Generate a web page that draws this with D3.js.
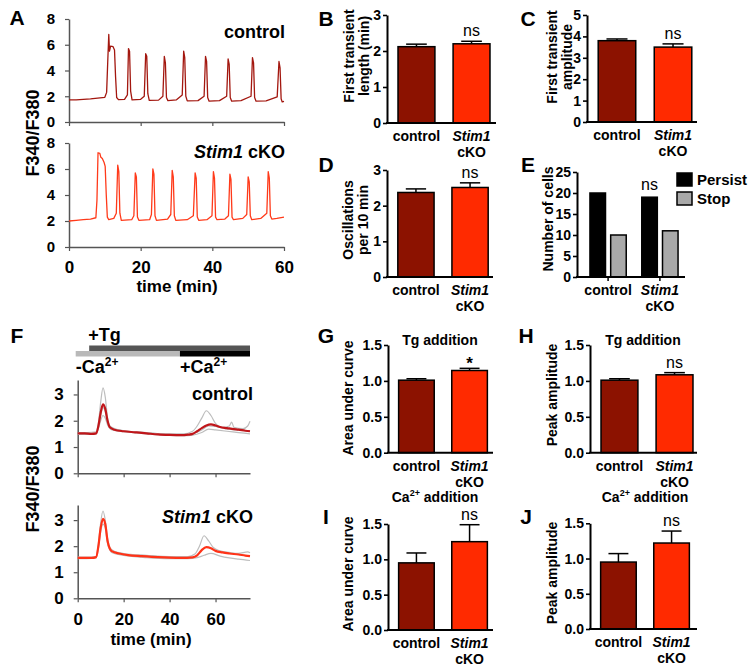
<!DOCTYPE html>
<html><head><meta charset="utf-8">
<script src="https://cdn.jsdelivr.net/npm/d3@7"></script>
<style>
body{margin:0;background:#fff}
svg text{font-family:"Liberation Sans",Arial,Helvetica,sans-serif}
</style>
</head><body>
<svg id="c" width="754" height="671"></svg>
<script>
// ---------------- DATA ----------------
const groups = ["control", "Stim1 cKO"];
const barColors = ["#8c1200", "#ff2a00"];

// B–D bar charts
const firstLength = [2.12, 2.20], firstLengthErr = [0.07, 0.07];
const firstAmp = [3.80, 3.50], firstAmpErr = [0.08, 0.15];
const oscPer10 = [2.37, 2.51], oscPer10Err = [0.10, 0.13];
// E
const series = ["Persist", "Stop"];
const persistCells = [20, 19];
const stopCells = [10, 11];
// G–J
const tgAUC = [1.01, 1.145], tgAUCErr = [0.02, 0.03];
const tgPeak = [1.01, 1.085], tgPeakErr = [0.02, 0.03];
const caAUC = [0.95, 1.25], caAUCErr = [0.14, 0.24];
const caPeak = [0.95, 1.22], caPeakErr = [0.12, 0.17];

const ticks3 = [0, 1, 2, 3];
const ticks5 = [0, 1, 2, 3, 4, 5];
const ticks25 = [0, 5, 10, 15, 20, 25];
const ticks15 = [0, 0.5, 1.0, 1.5];
const ticksA_y = [0, 2, 4, 6, 8];
const ticksA_x = [0, 20, 40, 60];
const ticksF_y = [0, 1, 2, 3];
const ticksF_x = [0, 20, 40, 60];

// A: single-cell traces [time (min), F340/F380]
const traceA_control = [
[0,1.72],[2,1.72],[4,1.76],[6,1.8],[8,1.86],[10,1.92],[10.5,2.3],[10.8,4.6],[11.1,6.8],[11.3,5.5],[11.6,5.9],[12.3,5.85],[12.7,5.6],[13.0,3.5],[13.3,1.9],[13.8,1.74],
[15.5,1.76],[16.3,2.1],[16.6,5.7],[16.9,5.5],[17.2,2.4],[17.6,1.72],
[20,1.76],[21.0,2.0],[21.4,5.3],[21.7,5.1],[22.0,2.2],[22.4,1.68],
[25,1.7],[26.2,2.0],[26.6,5.1],[26.9,4.6],[27.2,1.9],[27.6,1.66],
[30,1.72],[31.6,2.1],[32.0,5.5],[32.3,5.0],[32.6,2.0],[33.0,1.64],
[36,1.66],[37.7,2.0],[38.1,5.1],[38.4,4.7],[38.7,1.9],[39.1,1.62],
[42,1.66],[44.0,2.0],[44.4,4.9],[44.7,4.5],[45.0,1.9],[45.4,1.62],
[48,1.66],[50.8,2.0],[51.2,5.0],[51.5,4.6],[51.8,1.9],[52.2,1.62],
[55,1.64],[58.1,1.95],[58.6,4.7],[58.9,4.2],[59.2,1.8],[59.5,1.56],[60,1.6]
];
const traceA_cko = [
[0,2.0],[2,2.05],[4,2.1],[6,2.15],[7.5,2.25],[7.8,3.6],[8.1,7.25],[8.6,7.2],[8.9,6.9],[9.3,6.8],[9.8,6.5],[10.1,6.2],[10.4,4.0],[10.7,2.3],[11.1,2.1],
[12.5,2.2],[13.2,2.6],[13.6,6.3],[13.9,5.8],[14.2,2.6],[14.6,2.05],
[17.5,2.1],[18.1,2.4],[18.5,5.7],[18.8,5.4],[19.1,2.3],[19.5,2.05],
[22.5,2.1],[23.0,2.5],[23.4,6.0],[23.7,5.6],[24.0,2.4],[24.4,2.05],
[27.5,2.15],[28.4,2.5],[28.8,5.9],[29.1,5.4],[29.4,2.4],[29.8,2.05],
[33,2.1],[34.7,2.4],[35.2,5.7],[35.5,5.3],[35.8,2.3],[36.2,2.05],
[38.5,2.1],[39.9,2.4],[40.3,5.8],[40.6,5.3],[40.9,2.3],[41.3,2.1],
[43.5,2.15],[44.5,2.4],[44.9,5.6],[45.2,5.2],[45.5,2.3],[45.9,2.1],
[48.5,2.2],[49.6,2.5],[50.0,5.4],[50.3,5.0],[50.6,2.4],[51.0,2.1],
[53.5,2.2],[55.2,2.6],[55.6,5.8],[55.9,5.3],[56.2,2.4],[56.6,2.15],[58,2.2],[60,2.3]
];

// F: Tg / Ca2+ protocol (min)
const tgStart = 5, caStart = 44.5, protocolEnd = 75;
// F: mean traces (red) and individual cell traces (gray)
const meanF_control = [[0,1.52],[3,1.52],[6,1.5],[8,1.52],[9,1.8],[10,2.3],[11,2.62],[12,2.45],[13,2.0],[14,1.75],[16,1.66],[20,1.6],[25,1.56],[30,1.52],[35,1.48],[40,1.46],[45,1.45],[48,1.47],[50,1.5],[52,1.6],[54,1.72],[56,1.82],[58,1.86],[60,1.82],[62,1.76],[65,1.72],[68,1.68],[70,1.66],[73,1.62],[75,1.6]];
const grayF_control1 = [[0,1.55],[4,1.55],[8,1.58],[9,1.9],[10,2.7],[11,3.25],[12,2.9],[13,2.1],[14,1.8],[16,1.7],[20,1.62],[30,1.55],[40,1.5],[46,1.5],[50,1.6],[52,1.8],[54,2.1],[56,2.38],[58,2.2],[60,1.9],[63,1.75],[66,1.8],[67,1.95],[68,1.75],[72,1.7],[74,1.8],[75,1.98]];
const grayF_control2 = [[0,1.48],[4,1.48],[8,1.5],[9,1.7],[10,2.0],[11,2.2],[12,2.1],[13,1.85],[15,1.65],[20,1.58],[30,1.5],[40,1.44],[46,1.43],[50,1.45],[54,1.55],[57,1.68],[60,1.65],[65,1.6],[70,1.55],[75,1.5]];
const grayF_control3 = [[0,1.5],[5,1.5],[8,1.52],[9,1.75],[10,2.2],[11,2.5],[12,2.35],[13,1.95],[15,1.7],[20,1.62],[30,1.54],[40,1.48],[46,1.46],[50,1.5],[54,1.65],[57,1.8],[60,1.78],[64,1.7],[70,1.64],[75,1.62]];
const meanF_cko = [[0,1.55],[3,1.55],[6,1.55],[8,1.58],[9,2.0],[10,2.7],[11,3.05],[12,2.85],[13,2.2],[14,1.9],[15,1.8],[18,1.72],[22,1.66],[28,1.62],[35,1.58],[40,1.56],[45,1.55],[50,1.57],[52,1.65],[54,1.85],[56,1.96],[58,1.92],[60,1.82],[63,1.76],[66,1.72],[70,1.68],[73,1.64],[75,1.62]];
const grayF_cko1 = [[0,1.58],[4,1.58],[8,1.6],[9,2.1],[10,2.9],[11,3.35],[12,3.0],[13,2.3],[14,1.95],[16,1.8],[20,1.72],[30,1.65],[40,1.6],[48,1.6],[51,1.7],[53,2.0],[55,2.4],[57,2.2],[59,1.95],[62,1.82],[66,1.76],[70,1.72],[74,1.78],[75,1.75]];
const grayF_cko2 = [[0,1.52],[4,1.52],[8,1.55],[9,1.9],[10,2.55],[11,2.85],[12,2.7],[13,2.1],[15,1.75],[20,1.65],[30,1.56],[40,1.52],[48,1.52],[52,1.56],[55,1.65],[58,1.72],[62,1.62],[66,1.55],[70,1.5],[75,1.45]];

// ---------------- DRAWING ----------------
const svg = d3.select("#c");
svg.append("rect").attr("width",754).attr("height",671).attr("fill","#fff");
const FONT = "Liberation Sans, Arial, sans-serif";

function txt(x, y, s, size, opts = {}) {
  const t = svg.append("text").attr("x", x).attr("y", y)
    .attr("font-size", size).attr("font-weight", opts.weight || "bold")
    .attr("text-anchor", opts.anchor || "start").attr("fill", opts.fill || "#000");
  if (opts.italic) t.attr("font-style", "italic");
  t.text(s);
  return t;
}
function letter(x, y, s) { txt(x, y, s, 21, {anchor: "middle"}); }
function styleAxis(g, size, color, dw) {
  g.select(".domain").attr("stroke", color).attr("stroke-width", dw);
  g.selectAll(".tick line").attr("stroke", color).attr("stroke-width", dw * 0.8);
  g.selectAll(".tick text").attr("font-size", size).attr("font-weight", "bold")
    .attr("fill", "#000").attr("font-family", FONT);
}
function rotTitle(x, y, s, size) {
  svg.append("text").attr("transform", `translate(${x},${y}) rotate(-90)`)
    .attr("text-anchor", "middle").attr("dy", "0.35em")
    .attr("font-size", size).attr("font-weight", "bold").text(s);
}
function catLabels(xs, y0) {
  txt(xs[0], y0 + 18, "control", 14, {anchor: "middle"});
  txt(xs[1], y0 + 18, "Stim1", 14, {anchor: "middle", italic: true});
  txt(xs[1], y0 + 34, "cKO", 14, {anchor: "middle"});
}

function barPanel(o) {
  const y = d3.scaleLinear().domain(o.domain).range(o.yPx);
  const x = d3.scaleBand().domain(groups).range(o.band).paddingInner(0.33).paddingOuter(0.2);
  const bw = x.bandwidth();
  const g = svg.append("g");
  g.selectAll("rect").data(o.values).join("rect")
    .attr("x", (d, i) => x(groups[i])).attr("y", d => y(d))
    .attr("width", bw).attr("height", d => y(0) - y(d))
    .attr("fill", (d, i) => barColors[i]).attr("stroke", "#000").attr("stroke-width", 1.5);
  o.values.forEach((v, i) => {
    const cx = x(groups[i]) + bw / 2, top = y(v + o.errs[i]);
    g.append("line").attr("x1", cx).attr("x2", cx).attr("y1", y(v)).attr("y2", top)
      .attr("stroke", "#000").attr("stroke-width", 1.5);
    g.append("line").attr("x1", cx - bw * 0.28).attr("x2", cx + bw * 0.28).attr("y1", top).attr("y2", top)
      .attr("stroke", "#000").attr("stroke-width", 1.5);
  });
  const ya = svg.append("g").attr("transform", `translate(${o.ax},0)`)
    .call(d3.axisLeft(y).tickValues(o.ticks).tickSize(4).tickPadding(2).tickSizeOuter(0).tickFormat(o.fmt));
  styleAxis(ya, 14, "#000", 2);
  svg.append("line").attr("x1", o.ax - 1).attr("x2", o.axEnd).attr("y1", y(0)).attr("y2", y(0))
    .attr("stroke", "#000").attr("stroke-width", 2);
  const cxs = groups.map(k => x(k) + bw / 2);
  catLabels(cxs, y(0));
  const sTop = y(o.values[1] + o.errs[1]);
  if (o.sig === "*") txt(cxs[1], sTop + 1, "*", 17, {anchor: "middle"});
  else txt(cxs[1], sTop - 5, o.sig, 16, {anchor: "middle", weight: "normal"});
  o.title.forEach((t, i) => rotTitle(o.titleX[i], o.titleY, t, 14));
  if (o.header) {
    const h = svg.append("text").attr("x", o.headerX).attr("y", o.headerY).attr("text-anchor", "middle")
      .attr("font-size", 14).attr("font-weight", "bold");
    h.append("tspan").text(o.header[0]);
    if (o.header.length > 1) {
      h.append("tspan").attr("font-size", 9).attr("dy", -6).text(o.header[1]);
      h.append("tspan").attr("dy", 6).text(o.header[2]);
    }
  }
}

// ---- Panel A ----
const xA = d3.scaleLinear().domain([0, 60]).range([69, 284]);
function tracePanel(yRange, data, color, showX) {
  const y = d3.scaleLinear().domain([0, 8]).range(yRange);
  const ya = svg.append("g").attr("transform", "translate(69,0)")
    .call(d3.axisLeft(y).tickValues(ticksA_y).tickSize(4).tickPadding(10).tickSizeOuter(0).tickFormat(d3.format("d")));
  styleAxis(ya, 15, "#555", 1.5);
  const xa = svg.append("g").attr("transform", `translate(0,${yRange[0]})`)
    .call(d3.axisBottom(xA).tickValues(ticksA_x).tickSize(4).tickPadding(10).tickSizeOuter(0)
      .tickFormat(showX ? d3.format("d") : () => ""));
  styleAxis(xa, 17, "#555", 1.5);
  svg.append("path").datum(data)
    .attr("d", d3.line().x(d => xA(d[0])).y(d => y(d[1])))
    .attr("fill", "none").attr("stroke", color).attr("stroke-width", 1.3).attr("stroke-linejoin", "round");
}
tracePanel([122, 19], traceA_control, "#a3170f", false);
tracePanel([247, 143], traceA_cko, "#ff3a1a", true);
letter(17, 25, "A");
txt(285, 38, "control", 18, {anchor: "end"});
{
  const t = svg.append("text").attr("x", 285).attr("y", 158).attr("text-anchor", "end")
    .attr("font-size", 18).attr("font-weight", "bold");
  t.append("tspan").attr("font-style", "italic").text("Stim1");
  t.append("tspan").text(" cKO");
}
rotTitle(33, 133, "F340/F380", 18);
txt(177, 292, "time (min)", 17, {anchor: "middle"});

// ---- Panels B, C, D ----
letter(326, 26, "B");
barPanel({ax: 387, band: [387, 501], axEnd: 496, yPx: [123, 15], domain: [0, 3], ticks: ticks3, fmt: d3.format("d"),
  values: firstLength, errs: firstLengthErr, sig: "ns",
  title: ["First transient", "length (min)"], titleX: [349, 364], titleY: 56});
letter(528, 26, "C");
barPanel({ax: 587, band: [587, 703], axEnd: 697, yPx: [122, 15], domain: [0, 5], ticks: ticks5, fmt: d3.format("d"),
  values: firstAmp, errs: firstAmpErr, sig: "ns",
  title: ["First transient", "amplitude"], titleX: [552, 567], titleY: 57});
letter(326, 172, "D");
barPanel({ax: 387, band: [387, 499], axEnd: 493, yPx: [277, 170], domain: [0, 3], ticks: ticks3, fmt: d3.format("d"),
  values: oscPer10, errs: oscPer10Err, sig: "ns",
  title: ["Oscillations", "per 10 min"], titleX: [348, 363], titleY: 220});

// ---- Panel E ----
letter(528, 172, "E");
{
  const y = d3.scaleLinear().domain([0, 25]).range([277, 172]);
  const x0 = d3.scaleBand().domain(groups).range([577, 691]).paddingInner(0.3).paddingOuter(0.25);
  const x1 = d3.scaleBand().domain(series).range([0, x0.bandwidth()]).paddingInner(0.25);
  const colorsE = ["#000", "#a9a9a9"];
  const vals = [persistCells, stopCells];
  groups.forEach((gname, gi) => {
    series.forEach((s, si) => {
      const v = vals[si][gi];
      svg.append("rect").attr("x", x0(gname) + x1(s)).attr("y", y(v)).attr("width", x1.bandwidth())
        .attr("height", y(0) - y(v)).attr("fill", colorsE[si]).attr("stroke", "#000").attr("stroke-width", 1.5);
    });
  });
  const ya = svg.append("g").attr("transform", "translate(577,0)")
    .call(d3.axisLeft(y).tickValues(ticks25).tickSize(4).tickPadding(2).tickSizeOuter(0).tickFormat(d3.format("d")));
  styleAxis(ya, 14, "#000", 2);
  svg.append("line").attr("x1", 576).attr("x2", 685).attr("y1", y(0)).attr("y2", y(0)).attr("stroke", "#000").attr("stroke-width", 2);
  const cxs = groups.map(k => x0(k) + x0.bandwidth() / 2);
  cxs.forEach(cx => svg.append("line").attr("x1", cx).attr("x2", cx).attr("y1", y(0)).attr("y2", y(0) + 4).attr("stroke", "#000").attr("stroke-width", 1.5));
  catLabels(cxs, y(0));
  txt(x0(groups[1]) + x1(series[0]) + x1.bandwidth() / 2, y(persistCells[1]) - 7, "ns", 16, {anchor: "middle", weight: "normal"});
  rotTitle(548, 219, "Number of cells", 14);
  series.forEach((s, si) => {
    svg.append("rect").attr("x", 677).attr("y", 173 + si * 19).attr("width", 15).attr("height", 13)
      .attr("fill", colorsE[si]).attr("stroke", "#000").attr("stroke-width", 1.5);
    txt(697, 185 + si * 19, s, 15);
  });
}

// ---- Panel F ----
letter(17, 343, "F");
const xF = d3.scaleLinear().domain([0, protocolEnd]).range([77.7, 250]);
svg.append("rect").attr("x", xF(tgStart)).attr("y", 345.5).attr("width", xF(protocolEnd) - xF(tgStart)).attr("height", 5.5).attr("fill", "#555");
svg.append("rect").attr("x", xF(0) - 2).attr("y", 351).attr("width", xF(caStart) - xF(0) + 2).attr("height", 5.5).attr("fill", "#b9b9b9");
svg.append("rect").attr("x", xF(caStart)).attr("y", 351).attr("width", xF(protocolEnd) - xF(caStart)).attr("height", 5.5).attr("fill", "#000");
txt(xF(tgStart) - 1, 341, "+Tg", 18);
function caLabel(x, y, sign) {
  const t = svg.append("text").attr("x", x).attr("y", y).attr("font-size", 18).attr("font-weight", "bold");
  t.append("tspan").text(sign + "Ca");
  t.append("tspan").attr("font-size", 12).attr("dy", -7).text("2+");
}
caLabel(xF(0) - 2, 373, "-");
caLabel(xF(caStart), 373, "+");

function fPanel(yRange, top, means, grays, color, showX) {
  const y = d3.scaleLinear().domain([0, top]).range(yRange);
  const ya = svg.append("g").attr("transform", `translate(${xF(0)},0)`)
    .call(d3.axisLeft(y).tickValues(ticksF_y).tickSize(4).tickPadding(10).tickSizeOuter(0).tickFormat(d3.format("d")));
  styleAxis(ya, 17, "#555", 1.5);
  const xa = svg.append("g").attr("transform", `translate(0,${yRange[0]})`)
    .call(d3.axisBottom(xF).tickValues(ticksF_x).tickSize(4).tickPadding(11).tickSizeOuter(0)
      .tickFormat(showX ? d3.format("d") : () => ""));
  styleAxis(xa, 17, "#555", 1.5);
  const line = d3.line().x(d => xF(d[0])).y(d => y(d[1])).curve(d3.curveMonotoneX);
  grays.forEach(gd => svg.append("path").datum(gd).attr("d", line).attr("fill", "none")
    .attr("stroke", "#bdbdbd").attr("stroke-width", 1.2));
  svg.append("path").datum(means).attr("d", line).attr("fill", "none")
    .attr("stroke", color).attr("stroke-width", 2.2);
}
fPanel([473.3, 380], 3.55, meanF_control, [grayF_control1, grayF_control2, grayF_control3], "#c0161a", false);
fPanel([598.3, 505], 3.58, meanF_cko, [grayF_cko1, grayF_cko2], "#ff3318", true);
txt(253, 400, "control", 18, {anchor: "end"});
{
  const t = svg.append("text").attr("x", 253).attr("y", 523).attr("text-anchor", "end")
    .attr("font-size", 18).attr("font-weight", "bold");
  t.append("tspan").attr("font-style", "italic").text("Stim1");
  t.append("tspan").text(" cKO");
}
rotTitle(33, 489, "F340/F380", 18);
txt(151, 645, "time (min)", 17, {anchor: "middle"});

// ---- Panels G, H, I, J ----
letter(326, 343, "G");
barPanel({ax: 388, band: [388, 498], axEnd: 493, yPx: [452.7, 345], domain: [0, 1.5], ticks: ticks15, fmt: d3.format(".1f"),
  values: tgAUC, errs: tgAUCErr, sig: "*",
  title: ["Area under curve"], titleX: [348], titleY: 398,
  header: ["Tg addition"], headerX: 440, headerY: 345});
letter(526, 343, "H");
barPanel({ax: 590, band: [590, 704], axEnd: 697, yPx: [452.7, 345], domain: [0, 1.5], ticks: ticks15, fmt: d3.format(".1f"),
  values: tgPeak, errs: tgPeakErr, sig: "ns",
  title: ["Peak amplitude"], titleX: [552], titleY: 395,
  header: ["Tg addition"], headerX: 643, headerY: 345});
letter(326, 524, "I");
barPanel({ax: 388, band: [388, 498], axEnd: 493, yPx: [630, 524], domain: [0, 1.5], ticks: ticks15, fmt: d3.format(".1f"),
  values: caAUC, errs: caAUCErr, sig: "ns",
  title: ["Area under curve"], titleX: [348], titleY: 574,
  header: ["Ca", "2+", " addition"], headerX: 435, headerY: 502});
letter(526, 524, "J");
barPanel({ax: 590, band: [590, 700], axEnd: 697, yPx: [629, 523.3], domain: [0, 1.5], ticks: ticks15, fmt: d3.format(".1f"),
  values: caPeak, errs: caPeakErr, sig: "ns",
  title: ["Peak amplitude"], titleX: [552], titleY: 573,
  header: ["Ca", "2+", " addition"], headerX: 645, headerY: 502});
</script>
</body></html>
